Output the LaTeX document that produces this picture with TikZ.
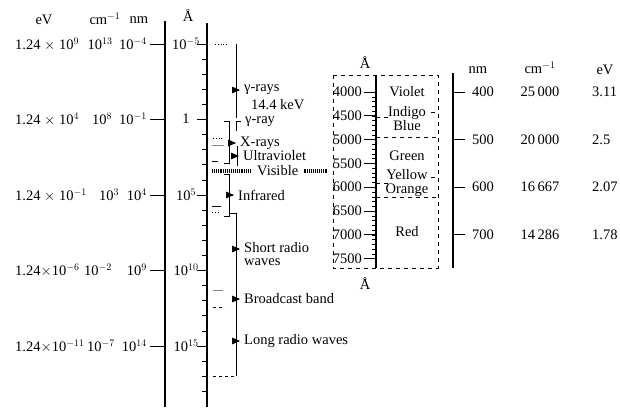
\documentclass[tikz,border=0pt]{standalone}
\usepackage{fontspec}
\setmainfont{Liberation Serif}
\usetikzlibrary{arrows}
\tikzstyle{txt} = [inner sep=0pt, font=\fontsize{14.5}{16}\selectfont]
\tikzstyle{band} = [txt, anchor=west]
\tikzstyle{scaleline} = [line width=1.5pt]
\tikzstyle{tickline} = [thick]
\tikzstyle{bracket} = [line width=1pt]
\tikzstyle{pointer} = [thick, -triangle 45, shorten >=4pt]
\tikzstyle{hatch} = [line width=3.5pt, dash pattern=on 1.1pt off 1pt]
\tikzstyle{dashbox} = [thick, dash pattern=on 4pt off 4pt]

\begin{document}
\begin{tikzpicture}[x=1pt, y=-1pt]
\useasboundingbox (0,0) rectangle (620,407);

\node (ev) [txt] at (44,20) {eV};
\node (wn) [txt] at (105,19) {cm$^{-1}$};
\node (nm) [txt] at (139,20) {nm};
\node (ang) [txt] at (188,16) {Å};

\draw [scaleline] (165,21) -- (165,407);
\draw [scaleline] (207,23) -- (207,407);
\foreach \k in {0,...,23} \draw [tickline] (202,44+15.1*\k) -- (207,44+15.1*\k);

\foreach \y/\c/\e/\w/\n/\a [count=\i] in {
  44/100/{1.24 $\times$ 10$^{9}$}/{10$^{13}$}/{10$^{-4}$}/{10$^{-5}$},
  119/102/{1.24 $\times$ 10$^{4}$}/{10$^{8}$}/{10$^{-1}$}/{1},
  195/109/{1.24 $\times$ 10$^{-1}$}/{10$^{3}$}/{10$^{4}$}/{10$^{5}$},
  270/98/{1.24$\times$10$^{-6}$}/{10$^{-2}$}/{10$^{9}$}/{10$^{10}$},
  346/101/{1.24$\times$10$^{-11}$}/{10$^{-7}$}/{10$^{14}$}/{10$^{15}$}}{
  \node (e\i) [txt, anchor=west] at (15,\y) {\e};
  \node (w\i) [txt] at (\c,\y) {\w};
  \node (n\i) [txt, anchor=east] at (147,\y) {\n};
  \node (a\i) [txt] at (186,\y) {\a};
  \draw [tickline] (n\i.east) ++(3,0) -- (165,\y);
  \draw [tickline] (197,\y) -- (207,\y);
}

\draw [thick, dotted] (215,44) -- (229,44);
\draw [thick, dotted] (213,138) -- (223,138);
\draw [thick, gray] (212,145) -- (224,145);
\draw [thick] (212,161) -- (218,161);
\draw [thick] (212,206) -- (221,206);
\draw [thick, dotted] (212,212) -- (220,212);
\draw [thick, gray] (213,290) -- (223,290);
\draw [thick, dashed] (213,307) -- (225,307);
\draw [thick, dashed] (213,376) -- (236,376);

\draw [bracket] (236,44) -- (236,118);
\draw [bracket] (241,121) -- (236,121) -- (236,131);
\draw [bracket] (224,121) -- (229,121) -- (229,163) -- (224,163);
\draw [bracket] (237,146) -- (237,166);
\draw [bracket] (224,174) -- (229,174) -- (229,216) -- (224,216);
\draw [bracket] (230,213) -- (236,213) -- (236,376);

\coordinate (pgam) at (236,90);
\coordinate (pxr) at (229,143);
\coordinate (puv) at (237,156);
\coordinate (pir) at (229,195);
\coordinate (psr) at (236,249);
\coordinate (pbb) at (236,299);
\coordinate (plr) at (236,341);
\coordinate (vl) at (212,171);
\coordinate (vr) at (327,171);

\node (gam) [band] at (244,90) {γ-rays};
\node (kev) [band, align=left, font=\fontsize{14.5}{14}\selectfont] at (245,113) {\hspace*{6pt}14.4 keV\\γ-ray};
\node (xr) [band] at (240,143) {X-rays};
\node (uv) [band] at (243,156) {Ultraviolet};
\node (vis) [band] at (257,171) {Visible};
\node (ir) [band] at (238,195) {Infrared};
\node (sr) [band, anchor=north west, align=left, font=\fontsize{14.5}{13.5}\selectfont] at (244,242) {Short radio\\waves};
\node (bb) [band] at (244,299) {Broadcast band};
\node (lr) [band] at (244,341) {Long radio waves};

\draw [pointer] (pgam) -- (gam.west);
\draw [pointer] (pxr) -- (xr.west);
\draw [pointer] (puv) -- (uv.west);
\draw [pointer] (pir) -- (ir.west);
\draw [pointer] (psr) -- (psr -| sr.west);
\draw [pointer] (pbb) -- (bb.west);
\draw [pointer] (plr) -- (lr.west);
\draw [hatch, shorten >=6pt] (vl) -- (vis.west);
\draw [hatch, shorten <=6pt] (vis.east) -- (vr);

\node (ang2) [txt] at (365,63) {Å};
\node (ang3) [txt] at (365,284) {Å};
\draw [dashbox] (333,75) rectangle (438,268);
\draw [scaleline, line width=1.2pt] (376,75) -- (376,268);
\foreach \j in {0,...,35} \draw [thin] (372,92+4.76*\j) -- (376,92+4.76*\j);
\foreach \l [count=\i from 0] in {4000,4500,5000,5500,6000,6500,7000,7500} {
  \node (r\l) [txt, anchor=east] at (362,92+23.8*\i) {\l};
  \draw [tickline] (r\l.east) ++(2,0) -- ++(12,0);
}

\node (violet) [txt] at (407,92) {Violet};
\node (indigo) [txt, align=center, font=\fontsize{14.5}{14}\selectfont] at (407,119) {Indigo\\Blue};
\node (green) [txt] at (407,156) {Green};
\node (yelor) [txt, align=center, font=\fontsize{14.5}{14}\selectfont] at (407,183) {Yellow\\Orange};
\node (red) [txt] at (407,232) {Red};
\draw [dashbox] (376,137) -- (438,137);
\draw [dashbox] (376,197) -- (438,197);
\draw [dashbox] (376,117) -- (390,117);
\draw [dashbox] (431,112) -- (438,112);
\draw [dashbox] (376,183) -- (388,183);
\draw [dashbox] (431,177) -- (438,177);

\draw [scaleline, line width=1.2pt] (453,73) -- (453,268);
\node (nmr) [txt] at (478,70) {nm};
\node (wnr) [txt] at (540,68) {cm$^{-1}$};
\node (evr) [txt] at (605,70) {eV};
\foreach \n/\w/\e [count=\i from 0] in {400/25\,000/3.11, 500/20\,000/2.5, 600/16\,667/2.07, 700/14\,286/1.78} {
  \draw [tickline] (453,92+47.6*\i) -- (465,92+47.6*\i);
  \node (nm\n) [txt] at (483,92+47.6*\i) {\n};
  \node (wn\n) [txt] at (540,92+47.6*\i) {\w};
  \node (ev\n) [txt, anchor=west] at (592,92+47.6*\i) {\e};
}

\end{tikzpicture}
\end{document}
